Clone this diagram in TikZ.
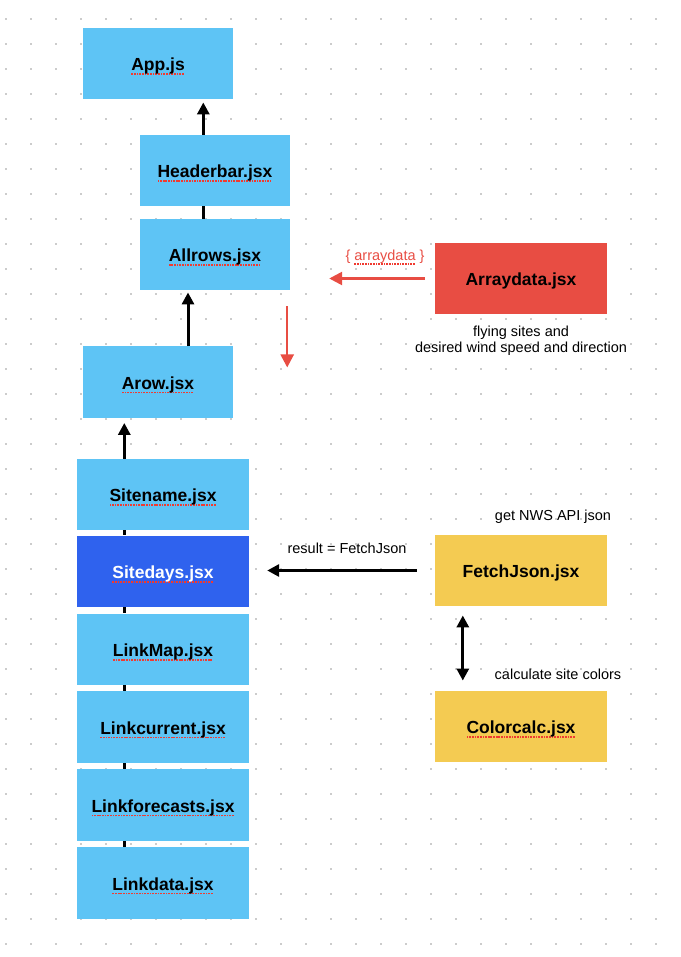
\documentclass[tikz,border=0pt]{standalone}
\usepackage{fontspec}
\setmainfont{Liberation Sans}
\usetikzlibrary{positioning, arrows.meta}

\definecolor{boxblue}{HTML}{5EC4F5}
\definecolor{darkblue}{HTML}{2F62EE}
\definecolor{boxred}{HTML}{E84D43}
\definecolor{boxyellow}{HTML}{F4CB52}
\definecolor{spellred}{HTML}{F03A30}
\definecolor{dotgray}{HTML}{CCCCCC}

% rote Punktlinie unter den Dateinamen
\newsavebox\spellbox
\newcommand\spell[1]{\sbox\spellbox{#1}%
  \rlap{\raisebox{-4pt}[0pt][0pt]{\color{spellred}\hbox to \wd\spellbox{\xleaders\hbox{\rule{1.7pt}{1.7pt}\kern0.9pt}\hfill}}}%
  \usebox\spellbox}

\begin{document}
\begin{tikzpicture}[
      x=1pt, y=-1pt,
      box/.style={fill=boxblue, minimum width=150pt, minimum height=71.5pt,
                  inner sep=0pt, text height=14.5pt, text depth=0pt,
                  font=\fontsize{17.5}{20}\selectfont\bfseries},
      widebox/.style={box, minimum width=172pt},
      note/.style={font=\fontsize{14.5}{16.5}\selectfont, inner sep=0pt, align=center},
      flow/.style={-{Triangle[length=12pt, width=12pt]}, line width=3pt},
      biflow/.style={{Triangle[length=12pt, width=12pt]}-{Triangle[length=12pt, width=12pt]}, line width=3pt},
      redflow/.style={-{Triangle[length=13pt, width=13pt]}, line width=2.5pt, draw=boxred, color=boxred},
      node distance=6pt
    ]
    \useasboundingbox (0,0) rectangle (680,957);

    % Punktraster
    \foreach \i in {0,...,26}
      \foreach \j in {0,...,37}
        \fill[dotgray] (5+25*\i, 18+25*\j) rectangle ++(2,2);

    % Komponenten
    \node[box] (app) at (158,63.5) {\spell{App.js}};
    \node[box] (header) at (215,170.5) {\spell{Headerbar.jsx}};
    \node[box] (allrows) at (215,254.5) {\spell{Allrows.jsx}};
    \node[box] (arow) at (158,382) {\spell{Arow.jsx}};
    \node[widebox] (sitename) at (163,494.5) {\spell{Sitename.jsx}};
    \node[widebox, fill=darkblue, text=white, below=5pt of sitename] (sitedays) {\spell{Sitedays.jsx}};
    \node[widebox, below=of sitedays] (linkmap) {\spell{LinkMap.jsx}};
    \node[widebox, below=of linkmap] (linkcurrent) {\spell{Linkcurrent.jsx}};
    \node[widebox, below=of linkcurrent] (linkforecasts) {\spell{Linkforecasts.jsx}};
    \node[widebox, below=of linkforecasts] (linkdata) {\spell{Linkdata.jsx}};

    \node[widebox, fill=boxred] (arraydata) at (521,278.5) {Arraydata.jsx};
    \node[widebox, fill=boxyellow] (fetch) at (521,570.5) {FetchJson.jsx};
    \node[widebox, fill=boxyellow] (colorcalc) at (521,726.5) {\spell{Colorcalc.jsx}};

    % Beschriftungen
    \node[note, below=11pt of arraydata] (sitesnote) {flying sites and\\desired wind speed and direction};
    \node[note, text=boxred] (arraytag) at (385,257) {\{ \spell{arraydata} \}};
    \node[note] (resultnote) at (347,548) {result = FetchJson};
    \node[note] (nwsnote) at (553,516.5) {get NWS API json};
    \node[note] (colornote) at (558,674.5) {calculate site colors};

    % Hilfspunkte fuer die senkrechten Linien
    \coordinate (spine) at (203.3,0);
    \coordinate (upx) at (188,0);
    \coordinate (stackx) at (124.3,0);
    \coordinate (dblx) at ([xshift=28pt]fetch.south west);
    \coordinate (dropstart) at ([xshift=-3pt, yshift=-16pt]allrows.south east);
    \coordinate (dropend) at ([yshift=-61pt]dropstart);

    % obere Kette
    \draw[flow, shorten >=3pt] (header.north -| spine) -- (app.south -| spine);
    \draw[line width=3pt] (header.south -| spine) -- (allrows.north -| spine);
    \draw[flow, shorten >=2pt] (arow.north -| upx) -- (allrows.south -| upx);
    \draw[flow, shorten >=5pt] (sitename.north -| stackx) -- (arow.south -| stackx);
    % Stapel
    \foreach \a/\b in {sitename/sitedays, sitedays/linkmap, linkmap/linkcurrent,
                       linkcurrent/linkforecasts, linkforecasts/linkdata}
      \draw[line width=3pt] (\a.south -| stackx) -- (\b.north -| stackx);

    % Daten
    \draw[redflow, shorten <=10pt, shorten >=39pt] (arraydata.west) -- (allrows.east |- arraydata.west);
    \draw[redflow] (dropstart) -- (dropend);
    \draw[flow, shorten <=18pt, shorten >=18pt] (fetch.west) -- (sitedays.east |- fetch.west);
    \draw[biflow, shorten <=9pt, shorten >=10pt] (fetch.south -| dblx) -- (colorcalc.north -| dblx);
  \end{tikzpicture}
\end{document}
